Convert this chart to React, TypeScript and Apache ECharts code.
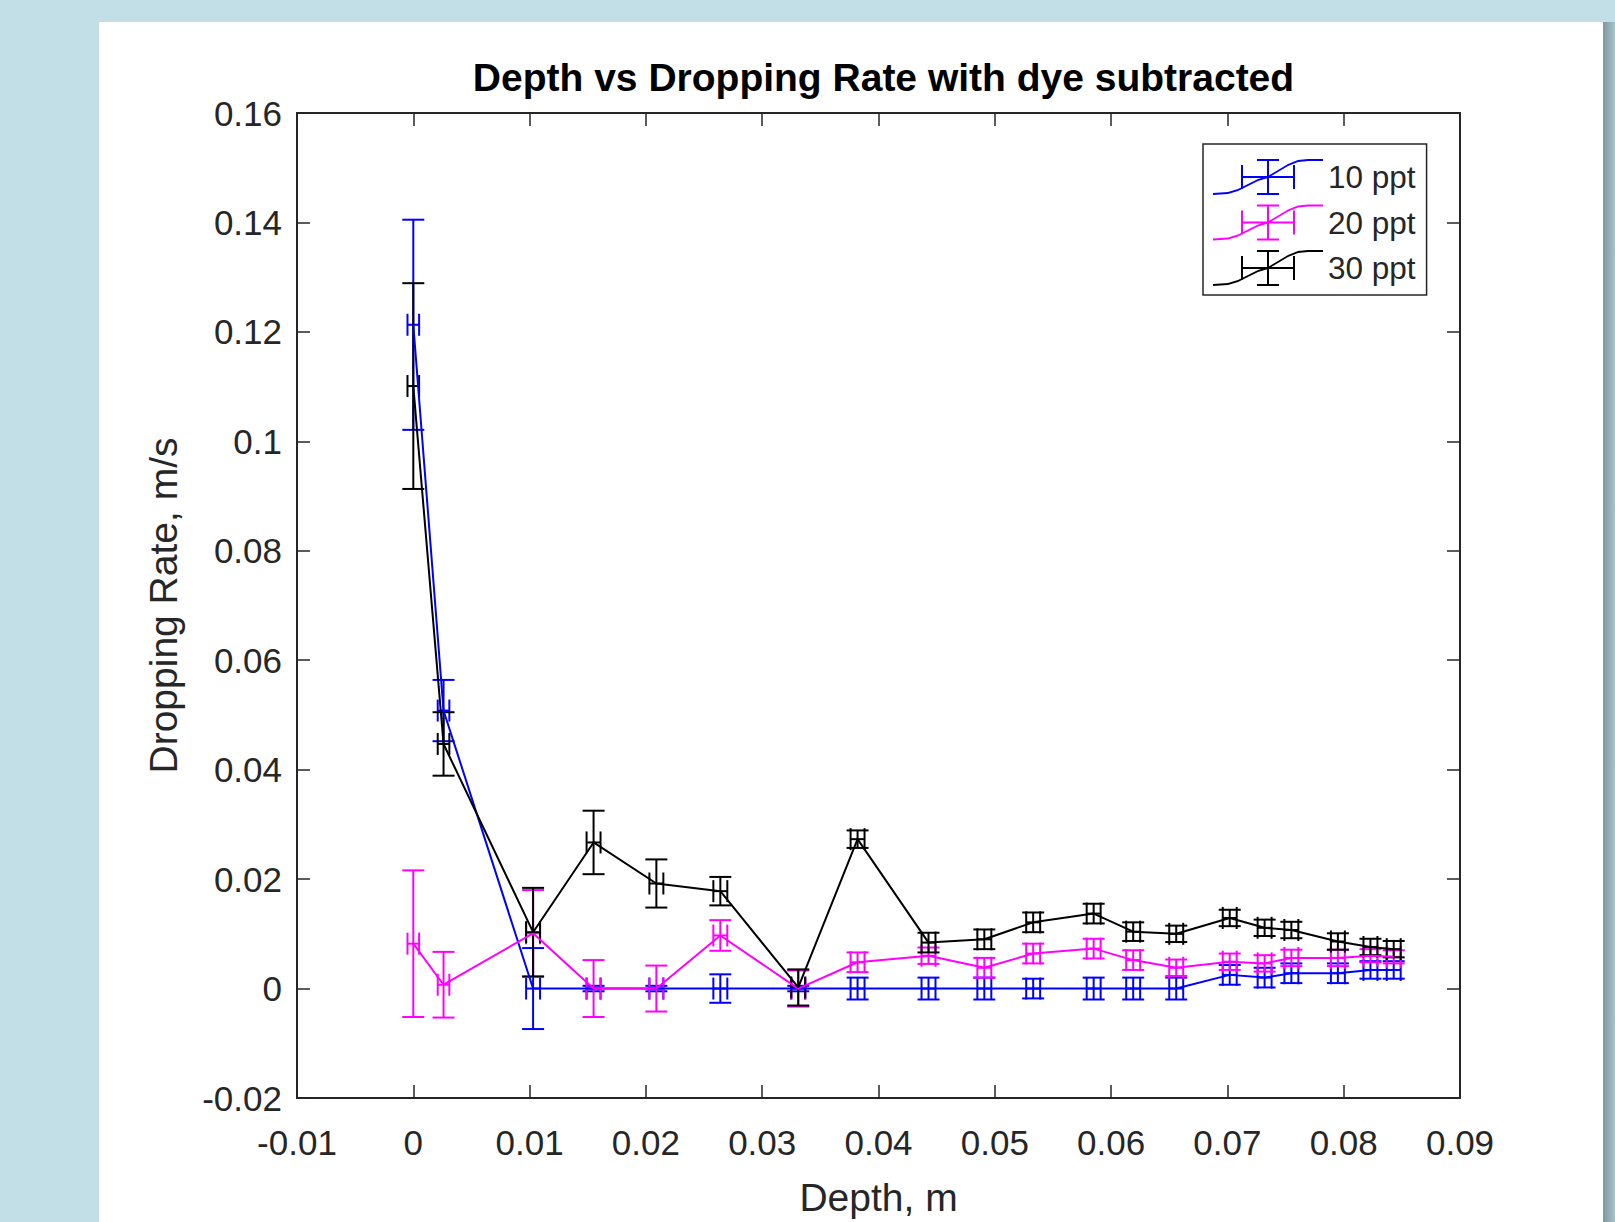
import React, { useEffect, useRef } from 'react';
import * as echarts from 'echarts';

// ---- Data ----
const depth = [0, 0.0026, 0.0103, 0.0155, 0.0209, 0.0264, 0.0331, 0.0382, 0.0443, 0.0491, 0.0533, 0.0585, 0.0619, 0.0656, 0.0702, 0.0732, 0.0755, 0.0795, 0.0823, 0.0843];
const depthErr = [0.0005, 0.0005, 0.0006, 0.0006, 0.0006, 0.0006, 0.0006, 0.0006, 0.0006, 0.0006, 0.0006, 0.0006, 0.0006, 0.0006, 0.0006, 0.0006, 0.0006, 0.0006, 0.0006, 0.0006];

const rate10 = [0.1213, 0.0508, 0, 0, 0, 0, 0, 0, 0, 0, 0, 0, 0, 0, 0.0025, 0.002, 0.0028, 0.0028, 0.0034, 0.0034];
const err10 = [0.0192, 0.0056, 0.0074, 0.0005, 0.0005, 0.0026, 0.0005, 0.002, 0.002, 0.002, 0.0018, 0.002, 0.002, 0.002, 0.0018, 0.0018, 0.0018, 0.0018, 0.0016, 0.0016];

const rate20 = [0.0082, 0.0007, 0.0101, 0, 0, 0.0097, 0, 0.0048, 0.006, 0.0038, 0.0064, 0.0073, 0.0052, 0.0038, 0.0049, 0.0046, 0.0056, 0.0056, 0.006, 0.0058];
const err20 = [0.0134, 0.006, 0.0079, 0.0052, 0.0042, 0.0028, 0.0033, 0.0018, 0.0015, 0.0018, 0.0018, 0.0018, 0.0018, 0.0015, 0.0015, 0.0015, 0.0015, 0.0015, 0.0012, 0.0012];

const rate30 = [0.1101, 0.0447, 0.0103, 0.0267, 0.0192, 0.0178, 0.0002, 0.0273, 0.0084, 0.009, 0.0121, 0.0137, 0.0104, 0.01, 0.0129, 0.0111, 0.0107, 0.0086, 0.0076, 0.0072];
const err30 = [0.0188, 0.0058, 0.0081, 0.0058, 0.0044, 0.0026, 0.0033, 0.0016, 0.0018, 0.0018, 0.0018, 0.0018, 0.0017, 0.0015, 0.0015, 0.0015, 0.0015, 0.0015, 0.0015, 0.0015];

const seriesNames = ['10 ppt', '20 ppt', '30 ppt'];
const seriesColors = ['#0000ff', '#ff00ff', '#000000'];

const xMin = -0.01, xMax = 0.09, xStep = 0.01;
const yMin = -0.02, yMax = 0.16, yStep = 0.02;

const titleText = 'Depth vs Dropping Rate with dye subtracted';
const xName = 'Depth, m';
const yName = 'Dropping Rate, m/s';

const FONT = '"Liberation Sans", Arial, Helvetica, sans-serif';
const AXIS_COLOR = '#262626';

const legendIcon =
  'path://M54,0h2v36h-2Z M44,0h22v2h-22Z M44,34h22v2h-22Z M28,17h54v2h-54Z M28,6h2v24h-2Z M80,6h2v24h-2Z ' +
  'M0,34 L15,33 L25,30 L35,25 L45,20 L55,17 L65,11 L75,5 L85,1 L95,0 L110,0 L110,2 L95,2 L85,3 L75,7 L65,13 L55,19 L45,22 L35,27 L25,32 L15,35 L0,36 Z';

function fmt(v: number) {
  return String(parseFloat(v.toFixed(3)));
}

export default function App() {
  const ref = useRef<HTMLDivElement>(null);
  useEffect(() => {
    if (!ref.current) return;
    const chart = echarts.init(ref.current, null, { renderer: 'svg' });

    const rates = [rate10, rate20, rate30];
    const errs = [err10, err20, err30];
    const LW = 2;

    const series: any[] = [];
    rates.forEach((r, si) => {
      const color = seriesColors[si];
      series.push({
        name: seriesNames[si],
        type: 'line',
        color,
        symbol: 'none',
        showSymbol: false,
        lineStyle: { color, width: LW },
        data: depth.map((d, i) => [d, r[i]]),
      });
      series.push({
        name: seriesNames[si],
        type: 'custom',
        color,
        data: depth.map((d, i) => [d, r[i], depthErr[i], errs[si][i]]),
        encode: { x: 0, y: 1 },
        renderItem: (params: any, api: any) => {
          const x = api.value(0), y = api.value(1), ex = api.value(2), ey = api.value(3);
          const c = api.coord([x, y]);
          const t = api.coord([x, y + ey]);
          const b = api.coord([x, y - ey]);
          const l = api.coord([x - ex, y]);
          const rr = api.coord([x + ex, y]);
          const cap = 11;
          const style = { stroke: color, lineWidth: LW, fill: null };
          return {
            type: 'group',
            children: [
              { type: 'line', shape: { x1: c[0], y1: t[1], x2: c[0], y2: b[1] }, style },
              { type: 'line', shape: { x1: c[0] - cap, y1: t[1], x2: c[0] + cap, y2: t[1] }, style },
              { type: 'line', shape: { x1: c[0] - cap, y1: b[1], x2: c[0] + cap, y2: b[1] }, style },
              { type: 'line', shape: { x1: l[0], y1: c[1], x2: rr[0], y2: c[1] }, style },
              { type: 'line', shape: { x1: l[0], y1: c[1] - cap, x2: l[0], y2: c[1] + cap }, style },
              { type: 'line', shape: { x1: rr[0], y1: c[1] - cap, x2: rr[0], y2: c[1] + cap }, style },
            ],
          };
        },
      });
    });

    const baseAxisLine = { show: true, onZero: false, lineStyle: { color: AXIS_COLOR, width: 2 } };
    const baseTick = { show: true, inside: true, length: 13, lineStyle: { color: AXIS_COLOR, width: 1.5 } };

    const option: any = {
      animation: false,
      backgroundColor: '#c2dfe7',
      graphic: [
        {
          type: 'rect',
          z: -10,
          shape: { x: 1603, y: 22, width: 12, height: 1200 },
          style: {
            fill: new echarts.graphic.LinearGradient(0, 0, 1, 0, [
              { offset: 0, color: '#7f989f' },
              { offset: 1, color: '#a9c3cb' },
            ]),
          },
        },
        {
          type: 'rect',
          z: -9,
          shape: { x: 99, y: 22, width: 1504, height: 1200 },
          style: { fill: '#ffffff' },
        },
      ],
      title: {
        text: titleText,
        left: 878.5,
        textAlign: 'center',
        top: 53,
        textStyle: { fontFamily: FONT, fontSize: 39, fontWeight: 'bold', color: '#000' },
      },
      grid: { left: 297, top: 113, right: 155, bottom: 122, containLabel: false },
      legend: {
        orient: 'vertical',
        left: 1203,
        top: 144,
        padding: [15, 11, 9, 10],
        itemGap: 9.5,
        itemWidth: 110,
        itemHeight: 36,
        itemTextGap: 7,
        backgroundColor: '#ffffff',
        borderColor: AXIS_COLOR,
        borderWidth: 1.5,
        borderRadius: 0,
        itemStyle: { borderWidth: 0 },
        textStyle: { fontFamily: FONT, fontSize: 31.5, color: AXIS_COLOR },
        data: seriesNames.map((n) => ({ name: n, icon: legendIcon })),
      },
      xAxis: [
        {
          type: 'value',
          min: xMin,
          max: xMax,
          interval: xStep,
          position: 'bottom',
          axisLine: baseAxisLine,
          axisTick: baseTick,
          splitLine: { show: false },
          axisLabel: { fontFamily: FONT, fontSize: 35, color: AXIS_COLOR, margin: 27, formatter: fmt },
          name: xName,
          nameLocation: 'middle',
          nameGap: 80,
          nameTextStyle: { fontFamily: FONT, fontSize: 39, color: AXIS_COLOR },
        },
        {
          type: 'value',
          min: xMin,
          max: xMax,
          interval: xStep,
          position: 'top',
          axisLine: baseAxisLine,
          axisTick: baseTick,
          splitLine: { show: false },
          axisLabel: { show: false },
        },
      ],
      yAxis: [
        {
          type: 'value',
          min: yMin,
          max: yMax,
          interval: yStep,
          position: 'left',
          axisLine: baseAxisLine,
          axisTick: baseTick,
          splitLine: { show: false },
          axisLabel: { fontFamily: FONT, fontSize: 35, color: AXIS_COLOR, margin: 15, formatter: fmt },
          name: yName,
          nameLocation: 'middle',
          nameGap: 114,
          nameTextStyle: { fontFamily: FONT, fontSize: 39, color: AXIS_COLOR },
        },
        {
          type: 'value',
          min: yMin,
          max: yMax,
          interval: yStep,
          position: 'right',
          axisLine: baseAxisLine,
          axisTick: baseTick,
          splitLine: { show: false },
          axisLabel: { show: false },
        },
      ],
      series,
    };

    chart.setOption(option);
    return () => chart.dispose();
  }, []);

  return (
    <div
      ref={ref}
      style={{ position: 'fixed', left: 0, top: 0, width: 1615, height: 1222 }}
    />
  );
}
